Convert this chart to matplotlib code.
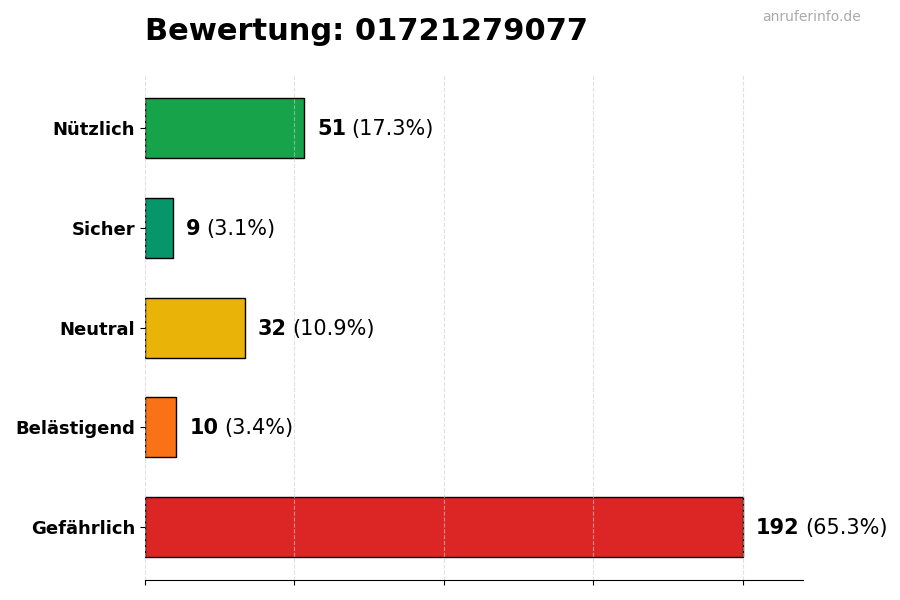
import matplotlib
matplotlib.use("Agg")
import matplotlib.pyplot as plt

categories = ["Gefährlich", "Belästigend", "Neutral", "Sicher", "Nützlich"]
counts = [192, 10, 32, 9, 51]
colors = ["#dc2626", "#f97316", "#eab308", "#059669", "#16a34a"]
phone = "01721279077"

total = sum(counts)
xmax = max(counts) * 1.1

fig = plt.figure(figsize=(9, 6), dpi=100)
ax = fig.add_axes([0.161, 0.033, 0.731, 0.842])

ax.barh(categories, counts, height=0.6, color=colors, edgecolor="black", linewidth=1, zorder=2)
ax.set_xlim(0, xmax)
ax.set_xticks([max(counts) * i / 4 for i in range(5)])
ax.set_xticklabels([])
ax.grid(axis="x", linestyle="--", color="#cccccc", alpha=0.6, zorder=3)
ax.set_axisbelow(False)
ax.grid(axis="y", visible=False)

for s in ["top", "right", "left"]:
    ax.spines[s].set_visible(False)

for lbl in ax.get_yticklabels():
    lbl.set_fontweight("bold")
    lbl.set_fontsize(13)

for i, c in enumerate(counts):
    t = ax.text(c + xmax * 0.02, i - 0.01, str(c), fontsize=15, fontweight="bold",
                va="center", ha="left")
    ax.annotate(f"({c / total * 100:.1f}%)", xy=(1, 0.5), xycoords=t,
                xytext=(4, 0), textcoords="offset points",
                fontsize=15, va="center", ha="left")

fig.text(0.161, 0.948, f"Bewertung: {phone}", fontsize=22, fontweight="bold",
         ha="left", va="center")
fig.text(0.957, 0.971, "anruferinfo.de", fontsize=10, color="#aaaaaa",
         ha="right", va="center")

fig.savefig("out.png", dpi=100)
